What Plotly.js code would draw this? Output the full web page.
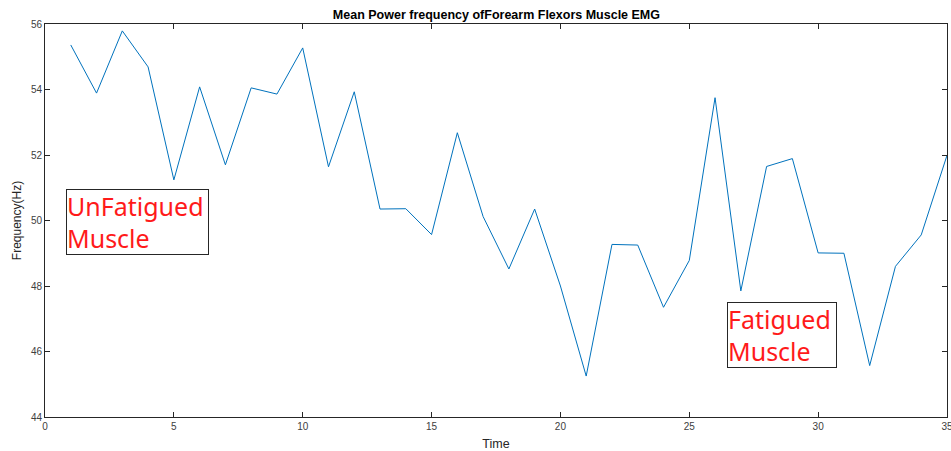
<!DOCTYPE html>
<html>
<head>
<meta charset="utf-8">
<script src="https://cdn.plot.ly/plotly-3.0.1.min.js"></script>
<style>html,body{margin:0;padding:0;background:#fff;}#chart{width:951px;height:451px;}</style>
</head>
<body>
<div id="chart"></div>
<script>
var time = [1,2,3,4,5,6,7,8,9,10,11,12,13,14,15,16,17,18,19,20,21,22,23,24,25,26,27,28,29,30,31,32,33,34,35];
var freq = [55.36,53.89,55.79,54.69,51.24,54.08,51.70,54.05,53.86,55.27,51.64,53.93,50.35,50.36,49.57,52.68,50.12,48.52,50.35,48.00,45.25,49.27,49.25,47.35,48.78,53.75,47.85,51.65,51.89,49.01,49.00,45.57,48.60,49.56,51.99];
var xTicks = [0,5,10,15,20,25,30,35];
var yTicks = [44,46,48,50,52,54,56];
var labels = ["UnFatigued<br>Muscle", "Fatigued<br>Muscle"];
var labelX = [0.82, 26.45];
var labelY = [50.96, 47.5];
var labelW = [141, 108];

var axisCommon = {
  showline: true, mirror: 'ticks', linecolor: '#262626', linewidth: 1,
  ticks: 'inside', ticklen: 5, tickcolor: '#262626', tickwidth: 1,
  showgrid: false, zeroline: false, ticklabeloverflow: 'allow',
  tickfont: {family: 'Liberation Sans, Arial, sans-serif', size: 10, color: '#404040'}
};

var trace = {
  x: time, y: freq, type: 'scatter', mode: 'lines',
  line: {color: '#0072BD', width: 1}, hoverinfo: 'skip', cliponaxis: false
};

var annotations = labels.map(function(t, i){
  return {
    x: labelX[i], y: labelY[i], xref: 'x', yref: 'y',
    xanchor: 'left', yanchor: 'top', align: 'left',
    text: t, showarrow: false, width: labelW[i], height: 64,
    font: {family: 'Noto Sans, Open Sans, sans-serif', size: 25, color: '#ff1a1a'},
    bordercolor: '#262626', borderwidth: 1, borderpad: 0,
    bgcolor: 'rgba(255,255,255,0)'
  };
});

var layout = {
  width: 951, height: 451,
  margin: {l: 45, r: 4, t: 24, b: 34},
  paper_bgcolor: '#fff', plot_bgcolor: '#fff',
  showlegend: false,
  title: {text: '<b>Mean Power frequency ofForearm Flexors Muscle EMG</b>',
    font: {family: 'Liberation Sans, Arial, sans-serif', size: 12.5, color: '#000'},
    x: 0.522, xanchor: 'center', y: 0.968, yanchor: 'middle'},
  xaxis: Object.assign({}, axisCommon, {
    range: [0, 35], tickvals: xTicks, ticktext: xTicks.map(String),
    title: {text: 'Time', font: {family: 'Liberation Sans, Arial, sans-serif', size: 12.5, color: '#262626'}, standoff: 8}
  }),
  yaxis: Object.assign({}, axisCommon, {
    range: [44, 56], tickvals: yTicks, ticktext: yTicks.map(String),
    title: {text: 'Frequency(Hz)', font: {family: 'Liberation Sans, Arial, sans-serif', size: 12, color: '#262626'}, standoff: 6}
  }),
  annotations: annotations
};

Plotly.newPlot('chart', [trace], layout, {displayModeBar: false, staticPlot: true});
</script>
</body>
</html>
